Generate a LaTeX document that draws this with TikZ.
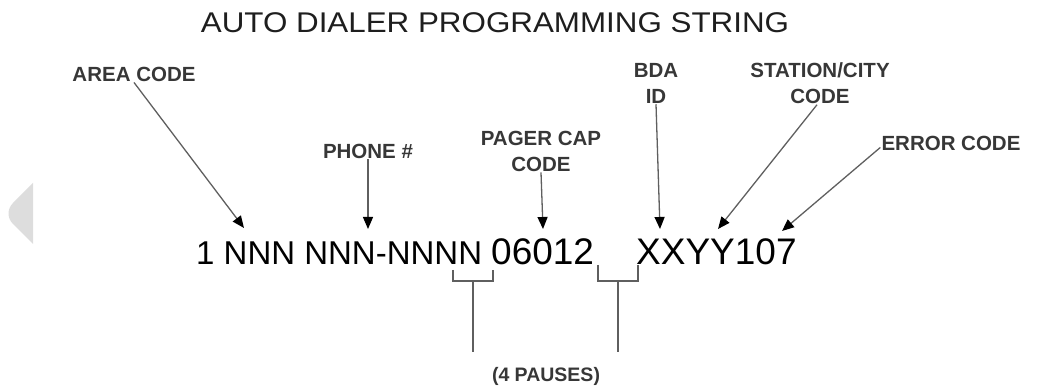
\documentclass[tikz,border=0pt]{standalone}
\usepackage{fontspec}
\setmainfont{Liberation Sans}
\newfontfamily\widesans[FakeStretch=1.1]{Liberation Sans}
\usetikzlibrary{arrows.meta,positioning,calc}
\definecolor{inkdark}{RGB}{30,30,30}
\definecolor{labelgray}{RGB}{55,55,55}
\definecolor{leadgray}{RGB}{95,95,95}
\definecolor{tabgray}{RGB}{221,221,221}

\begin{document}
\begin{tikzpicture}[
  x=1pt,y=-1pt,
  >=Triangle,
  lead/.style={-{Triangle[length=12pt,width=10pt,color=black]},line width=1.3pt,draw=leadgray},
  brace/.style={line width=1.3pt,draw=leadgray},
  heading/.style={font=\widesans\fontsize{28.5}{31}\selectfont,text=inkdark},
  lbl/.style={font=\bfseries\fontsize{20.5}{26}\selectfont,text=labelgray,align=center,inner sep=1pt},
  digits/.style={font=\fontsize{37}{39}\selectfont,text=black,anchor=base west,inner sep=0pt}
]
\useasboundingbox (0,0) rectangle (1039,387);

% -------------------------------------------------------------------------
% side tab and title
% -------------------------------------------------------------------------
\fill[tabgray] (33,183) -- (33,244) -- (13,224) .. controls (7,218) and (7,209) .. (13,203) -- cycle;
\node[heading] (title) at (495,23) {AUTO DIALER PROGRAMMING STRING};

% -------------------------------------------------------------------------
% programming string
% -------------------------------------------------------------------------
\node[digits,font=\fontsize{33}{35}\selectfont] (number) at (196,265) {1 NNN NNN-NNNN};
\node[digits] (capcode) at (491,265) {06012};
\node[digits] (tail) at (636,265) {XXYY107};

% -------------------------------------------------------------------------
% field labels
% -------------------------------------------------------------------------
\node[lbl] (area) at (134,74) {AREA CODE};
\node[lbl] (phone) at (368,151) {PHONE \#};
\node[lbl] (pager) at (541,151) {PAGER CAP\\CODE};
\node[lbl] (bda) at (656,83) {BDA\\ID};
\node[lbl] (station) at (820,83) {STATION/CITY\\CODE};
\node[lbl] (error) at (951,143) {ERROR CODE};
\node[lbl,font=\bfseries\fontsize{19.5}{24}\selectfont] (pauses) at (546,376) {(4 PAUSES)};

\coordinate (areatip) at (244,228);
\coordinate (phonetip) at (368,229);
\coordinate (pagertip) at (543,229);
\coordinate (bdatip) at (660,229);
\coordinate (stationtip) at (718,229);
\coordinate (errortip) at (782,231);

\draw[lead] (area.south) -- (areatip);
\draw[lead] (phone.south) -- (phonetip);
\draw[lead] (pager.south) -- (pagertip);
\draw[lead] (bda.south) -- (bdatip);
\draw[lead] ([xshift=-3pt]station.south) -- (stationtip);
\draw[lead] ([yshift=4pt]error.south west) -- (errortip);

% pause brackets
\foreach \l/\r/\t in {453/493/270,598/638/265}
  {\draw[brace] (\l,\t) -- (\l,281) -- (\r,281) -- (\r,\t);
   \draw[brace] ({(\l+\r)/2},281) -- ({(\l+\r)/2},352);}
\end{tikzpicture}
\end{document}
